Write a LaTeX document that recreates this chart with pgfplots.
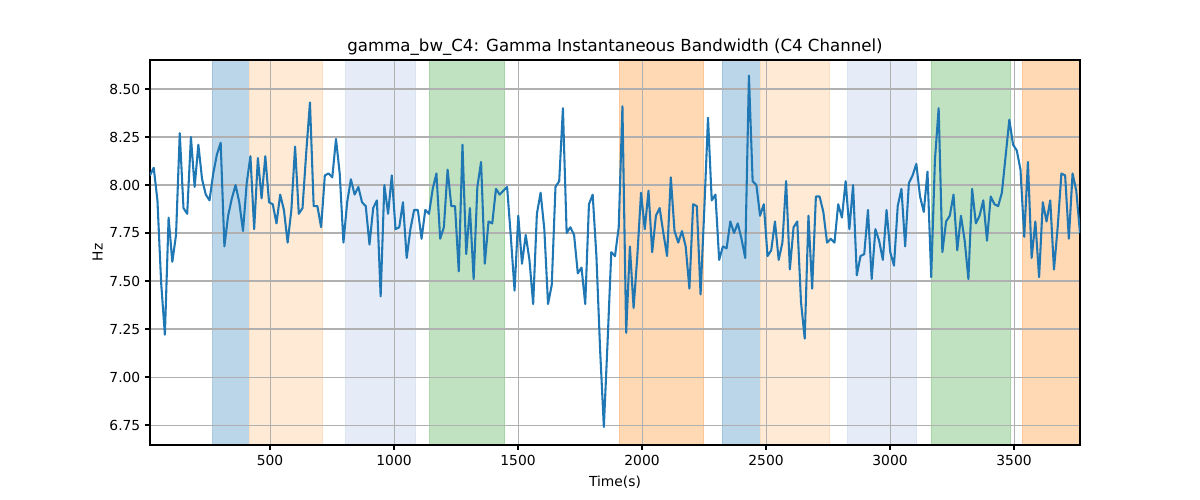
\documentclass[border=0pt]{standalone}
\usepackage{pgfplots}
\pgfplotsset{compat=1.18}
\usepackage{fontspec}
\setmainfont{DejaVu Sans}
\definecolor{tabblue}{RGB}{31,119,180}
\definecolor{spanblue}{RGB}{188,214,233}
\definecolor{spanblueE}{RGB}{160,195,222}
\definecolor{spanpeach}{RGB}{255,234,214}
\definecolor{spanpeachE}{RGB}{253,222,192}
\definecolor{spanlight}{RGB}{229,236,247}
\definecolor{spanlightE}{RGB}{218,228,243}
\definecolor{spangreen}{RGB}{192,226,192}
\definecolor{spangreenE}{RGB}{165,213,165}
\definecolor{spanorange}{RGB}{255,216,180}
\definecolor{spanorangeE}{RGB}{254,198,150}
\definecolor{gridgray}{RGB}{176,176,176}
\pgfplotsset{common/.style={
  at={(0,0)}, anchor=south west,
  scale only axis,
  width=9.3in, height=3.85in,
  xmin=16, xmax=3766,
  ymin=6.646, ymax=8.651,
  clip=true,
}}
\begin{document}
\begin{tikzpicture}
\path[use as bounding box] (-1.5in,-0.55in) rectangle (10.5in,4.45in);
\begin{axis}[common, hide axis]
\addplot[fill=spanblue, draw=spanblueE, line width=0.7pt] coordinates {(266,6.6) (419,6.6) (419,8.7) (266,8.7)} \closedcycle;
\addplot[fill=spanpeach, draw=spanpeachE, line width=0.7pt] coordinates {(419,6.6) (710,6.6) (710,8.7) (419,8.7)} \closedcycle;
\addplot[fill=spanlight, draw=spanlightE, line width=0.7pt] coordinates {(806,6.6) (1085,6.6) (1085,8.7) (806,8.7)} \closedcycle;
\addplot[fill=spangreen, draw=spangreenE, line width=0.7pt] coordinates {(1141,6.6) (1444,6.6) (1444,8.7) (1141,8.7)} \closedcycle;
\addplot[fill=spanorange, draw=spanorangeE, line width=0.7pt] coordinates {(1911,6.6) (2246,6.6) (2246,8.7) (1911,8.7)} \closedcycle;
\addplot[fill=spanblue, draw=spanblueE, line width=0.7pt] coordinates {(2323,6.6) (2476,6.6) (2476,8.7) (2323,8.7)} \closedcycle;
\addplot[fill=spanpeach, draw=spanpeachE, line width=0.7pt] coordinates {(2476,6.6) (2754,6.6) (2754,8.7) (2476,8.7)} \closedcycle;
\addplot[fill=spanlight, draw=spanlightE, line width=0.7pt] coordinates {(2827,6.6) (3105,6.6) (3105,8.7) (2827,8.7)} \closedcycle;
\addplot[fill=spangreen, draw=spangreenE, line width=0.7pt] coordinates {(3169,6.6) (3484,6.6) (3484,8.7) (3169,8.7)} \closedcycle;
\addplot[fill=spanorange, draw=spanorangeE, line width=0.7pt] coordinates {(3536,6.6) (3800,6.6) (3800,8.7) (3536,8.7)} \closedcycle;
\end{axis}
\begin{axis}[common,
  xtick={500,1000,1500,2000,2500,3000,3500},
  ytick={6.75,7.00,7.25,7.50,7.75,8.00,8.25,8.50},
  /pgf/number format/assume math mode=true,
  yticklabel style={/pgf/number format/fixed,/pgf/number format/fixed zerofill,/pgf/number format/precision=2},
  xticklabel style={/pgf/number format/1000 sep={}},
  scaled y ticks=false,
  tick label style={font=\fontsize{10}{12}\selectfont},
  label style={font=\fontsize{10}{12}\selectfont},
  title style={font=\fontsize{12}{14}\selectfont, yshift=-6pt},
  title={gamma\_bw\_C4: Gamma Instantaneous Bandwidth (C4 Channel)},
  xlabel={Time(s)}, ylabel={Hz},
  xlabel style={yshift=-1pt},
  ylabel style={yshift=-2pt},
  grid=major,
  major grid style={gridgray, line width=0.75pt},
  tick align=outside,
  major tick length=3.5pt,
  xtick pos=bottom, ytick pos=left,
  axis line style={line width=0.8pt},
  every tick/.style={black, line width=0.8pt},
]
\addplot[tabblue, line width=1.5pt, mark=none, line join=round] coordinates {
(16,8.05) (31,8.09) (46,7.92) (61,7.49) (76,7.22) (91,7.83) (106,7.60) (121,7.74) (136,8.27) (151,7.88)
(166,7.85) (181,8.25) (196,7.99) (211,8.21) (226,8.03) (241,7.95) (256,7.92) (271,8.06) (286,8.16) (301,8.22)
(316,7.68) (331,7.84) (346,7.93) (361,8.00) (376,7.91) (391,7.76) (406,8.01) (421,8.15) (436,7.77) (451,8.14)
(466,7.93) (481,8.15) (496,7.91) (511,7.90) (526,7.80) (541,7.95) (556,7.87) (571,7.70) (586,7.87) (601,8.20)
(616,7.85) (631,7.88) (646,8.17) (661,8.43) (676,7.89) (691,7.89) (706,7.78) (721,8.05) (736,8.06) (751,8.04)
(766,8.24) (781,8.06) (796,7.70) (811,7.91) (826,8.03) (841,7.95) (856,7.99) (871,7.91) (886,7.89) (901,7.69)
(916,7.88) (931,7.92) (946,7.42) (961,8.00) (976,7.85) (991,8.05) (1006,7.77) (1021,7.78) (1036,7.91) (1051,7.62)
(1066,7.77) (1081,7.87) (1096,7.87) (1111,7.72) (1126,7.87) (1141,7.85) (1156,7.98) (1171,8.06) (1186,7.72) (1201,7.78)
(1216,8.08) (1231,7.89) (1246,7.89) (1261,7.55) (1276,8.21) (1291,7.64) (1306,7.88) (1321,7.51) (1336,7.99) (1351,8.12)
(1366,7.59) (1381,7.81) (1396,7.80) (1411,7.98) (1426,7.95) (1441,7.97) (1456,7.99) (1471,7.73) (1486,7.45) (1501,7.84)
(1516,7.59) (1531,7.74) (1546,7.61) (1561,7.38) (1576,7.85) (1591,7.96) (1606,7.77) (1621,7.38) (1636,7.48) (1651,7.99)
(1666,8.02) (1681,8.40) (1696,7.75) (1711,7.78) (1726,7.74) (1741,7.54) (1756,7.57) (1771,7.38) (1786,7.90) (1801,7.95)
(1816,7.63) (1831,7.14) (1846,6.74) (1861,7.18) (1876,7.65) (1891,7.63) (1906,7.78) (1921,8.41) (1936,7.23) (1951,7.68)
(1966,7.36) (1981,7.63) (1996,7.96) (2011,7.77) (2026,7.97) (2041,7.65) (2056,7.84) (2071,7.88) (2086,7.75) (2101,7.63)
(2116,8.04) (2131,7.76) (2146,7.70) (2161,7.76) (2176,7.68) (2191,7.46) (2206,7.90) (2221,7.89) (2236,7.43) (2251,7.87)
(2266,8.35) (2281,7.92) (2296,7.95) (2311,7.61) (2326,7.68) (2341,7.67) (2356,7.81) (2371,7.75) (2386,7.80) (2401,7.72)
(2416,7.62) (2431,8.57) (2446,8.02) (2461,8.00) (2476,7.84) (2491,7.90) (2506,7.63) (2521,7.66) (2536,7.81) (2551,7.61)
(2566,7.70) (2581,8.02) (2596,7.56) (2611,7.78) (2626,7.81) (2641,7.39) (2656,7.20) (2671,7.84) (2686,7.46) (2701,7.94)
(2716,7.94) (2731,7.86) (2746,7.70) (2761,7.72) (2776,7.70) (2791,7.90) (2806,7.83) (2821,8.02) (2836,7.77) (2851,8.00)
(2866,7.53) (2881,7.63) (2896,7.64) (2911,7.87) (2926,7.51) (2941,7.77) (2956,7.71) (2971,7.61) (2986,7.87) (3001,7.65)
(3016,7.58) (3031,7.89) (3046,7.98) (3061,7.68) (3076,8.01) (3091,8.05) (3106,8.11) (3121,7.94) (3136,7.86) (3151,8.07)
(3166,7.52) (3181,8.13) (3196,8.40) (3211,7.65) (3226,7.81) (3241,7.84) (3256,7.95) (3271,7.66) (3286,7.84) (3301,7.71)
(3316,7.51) (3331,7.98) (3346,7.80) (3361,7.84) (3376,7.92) (3391,7.71) (3406,7.94) (3421,7.90) (3436,7.89) (3451,7.96)
(3466,8.15) (3481,8.34) (3496,8.21) (3511,8.18) (3526,8.08) (3541,7.73) (3556,8.12) (3571,7.62) (3586,7.81) (3601,7.52)
(3616,7.91) (3631,7.81) (3646,7.92) (3661,7.56) (3676,7.78) (3691,8.06) (3706,8.05) (3721,7.72) (3736,8.06) (3751,7.97)
(3766,7.75)
};
\end{axis}
\end{tikzpicture}
\end{document}
